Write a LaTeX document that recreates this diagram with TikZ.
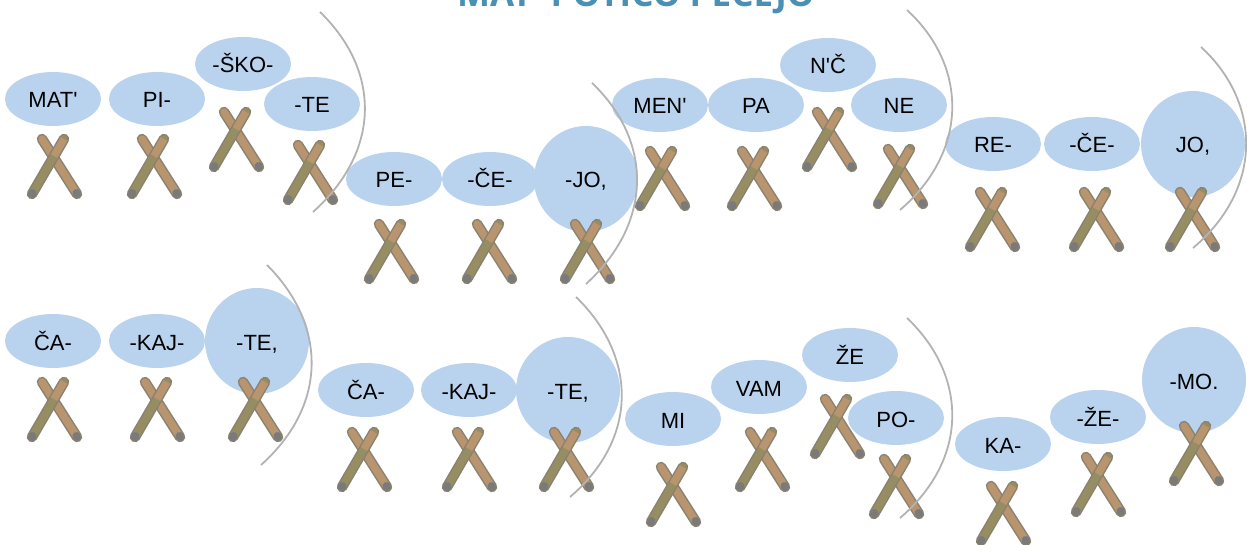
\documentclass[tikz,border=0pt]{standalone}
\usepackage{fontspec}
\usetikzlibrary{shapes.geometric}
\setmainfont{Liberation Sans}[Ligatures=TeXOff]
\newfontfamily\titlefont{Open Sans}[Ligatures=TeXOff]
\definecolor{syllable}{HTML}{B9D3EE}
\definecolor{phrasearc}{HTML}{B2B2B2}
\definecolor{titleblue}{HTML}{4A90B5}
\definecolor{stickedge}{HTML}{8A8270}
\definecolor{sticktan}{HTML}{B8946F}
\definecolor{stickolive}{HTML}{968E62}
\definecolor{stickend}{HTML}{7A7A7A}
\tikzset{
  pics/sticks/.style={code={
    \draw[line width = 10.5pt, line cap = round, stickedge] (-11,-24) -- (24,31);
    \draw[line width = 7.5pt, line cap = round, sticktan] (-11,-24) -- (24,31);
    \draw[line width = 8pt, line cap = round, stickend] (23.5,30) -- (24,31);
    \draw[line width = 10.5pt, line cap = round, stickedge] (11,-24) -- (-21,31);
    \draw[line width = 7.5pt, line cap = round, stickolive] (11,-24) -- (-21,31);
    \draw[line width = 7.5pt, sticktan] (11,-24) -- (1,-7);
    \draw[line width = 8pt, line cap = round, stickend] (-20.5,30) -- (-21,31);
  }}
}
\begin{document}
\begin{tikzpicture}[x = 1pt, y = -1pt]
\tikzstyle{SylStyle}=[shape = ellipse,
                      fill = syllable,
                      minimum width = 96pt,
                      minimum height = 54pt,
                      inner sep = 0pt,
                      text height = 18pt,
                      text depth = 0pt,
                      font = \fontsize{22}{26}\selectfont]
\tikzstyle{BigStyle}=[SylStyle, minimum width = 104pt, minimum height = 106pt]
\tikzstyle{ArcStyle}=[draw = phrasearc, line width = 1.8pt]
\useasboundingbox (0,0) rectangle (1247,545);
\node[text = titleblue, font = \titlefont\bfseries\fontsize{35}{40}\selectfont, anchor = base] (title) at (636,7) {MAT' POTIČO PEČEJO};
% first line
\node[SylStyle] (s0) at (53,99) {MAT'};
\node[SylStyle] (s1) at (157,99) {PI-};
\node[SylStyle] (s2) at (243,64) {-ŠKO-};
\node[SylStyle] (s3) at (312,104) {-TE};
\node[SylStyle] (s4) at (394,179) {PE-};
\node[SylStyle] (s5) at (490,179) {-ČE-};
\node[BigStyle] (s6) at (586,179) {-JO,};
\node[SylStyle] (s7) at (660,105) {MEN'};
\node[SylStyle] (s8) at (756,105) {PA};
\node[SylStyle] (s9) at (828,65) {N'Č};
\node[SylStyle] (s10) at (899,105) {NE};
\node[SylStyle] (s11) at (993,144) {RE-};
\node[SylStyle] (s12) at (1092,144) {-ČE-};
\node[BigStyle] (s13) at (1193,144) {JO,};
% second line
\node[SylStyle] (s14) at (53,341) {ČA-};
\node[SylStyle] (s15) at (157,341) {-KAJ-};
\node[BigStyle] (s16) at (257,341) {-TE,};
\node[SylStyle] (s17) at (366,390) {ČA-};
\node[SylStyle] (s18) at (469,390) {-KAJ-};
\node[BigStyle] (s19) at (568,390) {-TE,};
\node[SylStyle] (s20) at (673,419) {MI};
\node[SylStyle] (s21) at (759,387) {VAM};
\node[SylStyle] (s22) at (850,355) {ŽE};
\node[SylStyle] (s23) at (896,418) {PO-};
\node[SylStyle] (s24) at (1003,444) {KA-};
\node[SylStyle] (s25) at (1098,417) {-ŽE-};
\node[BigStyle] (s26) at (1194,380) {-MO.};
% sticks
\pic at (53,163) {sticks};
\pic at (153,163) {sticks};
\pic at (235,136) {sticks};
\pic at (309,169) {sticks};
\pic at (390,248) {sticks};
\pic at (488,248) {sticks};
\pic at (586,248) {sticks};
\pic at (661,175) {sticks};
\pic at (753,175) {sticks};
\pic at (828,136) {sticks};
\pic at (899,173) {sticks};
\pic at (991,216) {sticks};
\pic at (1095,216) {sticks};
\pic at (1191,216) {sticks};
\pic at (53,406) {sticks};
\pic at (156,406) {sticks};
\pic at (254,406) {sticks};
\pic at (363,456) {sticks};
\pic at (468,456) {sticks};
\pic at (565,456) {sticks};
\pic at (672,491) {sticks};
\pic at (761,456) {sticks};
\pic at (836,423) {sticks};
\pic at (895,483) {sticks};
\pic at (1002,510) {sticks};
\pic at (1097,481) {sticks};
\pic at (1195,450) {sticks};
% phrase arcs
\draw[ArcStyle] (320,12) .. controls (380,70) and (382,150) .. (313,212);
\draw[ArcStyle] (592,83) .. controls (652,140) and (654,222) .. (586,284);
\draw[ArcStyle] (907,10) .. controls (967,65) and (970,150) .. (900,210);
\draw[ArcStyle] (1201,47) .. controls (1261,102) and (1264,188) .. (1193,248);
\draw[ArcStyle] (267,265) .. controls (327,325) and (328,405) .. (261,465);
\draw[ArcStyle] (576,297) .. controls (636,355) and (640,437) .. (570,497);
\draw[ArcStyle] (907,318) .. controls (967,375) and (970,458) .. (900,518);
\end{tikzpicture}
\end{document}
